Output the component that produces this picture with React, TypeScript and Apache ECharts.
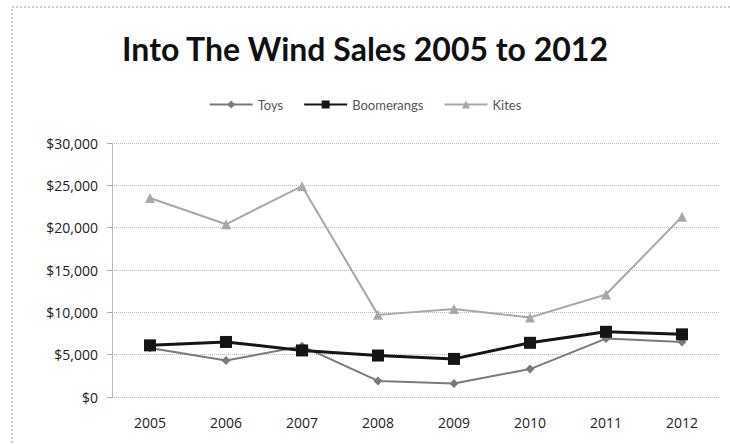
import React, { useEffect, useRef } from "react";
import * as echarts from "echarts";

const years = ["2005", "2006", "2007", "2008", "2009", "2010", "2011", "2012"];
const toys = [5800, 4300, 6000, 1900, 1600, 3300, 6900, 6500];
const boomerangs = [6100, 6500, 5500, 4900, 4500, 6400, 7700, 7400];
const kites = [23500, 20400, 24900, 9700, 10400, 9400, 12100, 21300];

export default function App() {
  const ref = useRef<HTMLDivElement>(null);
  useEffect(() => {
    document.body.style.margin = "0";
    const chart = echarts.init(ref.current!, null, { renderer: "svg" });
    const font = "Lato, 'Open Sans', sans-serif";
    const axisFont = "'Open Sans', Lato, sans-serif";
    chart.setOption({
      animation: false,
      backgroundColor: "#fff",
      title: {
        text: "Into The Wind Sales 2005 to 2012",
        left: "center",
        top: 27,
        textStyle: { fontFamily: font, fontSize: 32, fontWeight: "bold", color: "#111" },
      },
      legend: {
        top: 93,
        left: "center",
        itemWidth: 43,
        itemHeight: 10,
        itemGap: 20,
        textStyle: { fontFamily: font, fontSize: 13, color: "#555" },
        data: ["Toys", "Boomerangs", "Kites"],
      },
      graphic: [
        {
          type: "rect",
          shape: { x: 12, y: 7, width: 760, height: 480 },
          style: { fill: "none", stroke: "#999", lineWidth: 1, lineDash: [2, 2] },
          silent: true,
        },
      ],
      grid: { left: 112, right: 10, top: 143, bottom: 47 },
      xAxis: {
        type: "category",
        data: years,
        boundaryGap: true,
        axisLine: { show: false },
        axisTick: { show: false },
        axisLabel: { fontFamily: axisFont, fontSize: 14, color: "#222", margin: 18 },
      },
      yAxis: {
        type: "value",
        min: 0,
        max: 30000,
        interval: 5000,
        axisLine: { show: true, lineStyle: { color: "#aaa", type: "dotted" } },
        axisTick: { show: true, length: 5, lineStyle: { color: "#aaa" } },
        splitLine: { lineStyle: { color: "#bbb", type: "dotted" } },
        axisLabel: {
          fontFamily: axisFont,
          fontSize: 14,
          color: "#222",
          margin: 14,
          formatter: (v: number) => "$" + v.toLocaleString("en-US"),
        },
      },
      series: [
        {
          name: "Toys",
          type: "line",
          data: toys,
          symbol: "diamond",
          symbolSize: 9,
          lineStyle: { color: "#7a7a7a", width: 2 },
          itemStyle: { color: "#7a7a7a" },
        },
        {
          name: "Boomerangs",
          type: "line",
          data: boomerangs,
          symbol: "rect",
          symbolSize: 12,
          lineStyle: { color: "#151515", width: 3 },
          itemStyle: { color: "#151515" },
        },
        {
          name: "Kites",
          type: "line",
          data: kites,
          symbol: "triangle",
          symbolSize: 10,
          lineStyle: { color: "#a8a8a8", width: 2 },
          itemStyle: { color: "#a8a8a8" },
        },
      ],
    });
    return () => chart.dispose();
  }, []);
  return <div ref={ref} style={{ width: 730, height: 444 }} />;
}
